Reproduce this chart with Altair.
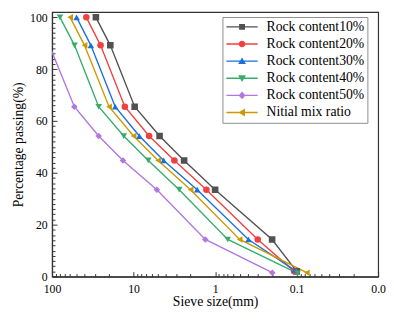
import altair as alt
import pandas as pd

# ---------------- data ----------------
series_names = ["Rock content10%", "Rock content20%", "Rock content30%",
                "Rock content40%", "Rock content50%", "Nitial mix ratio"]
series_colors = ["#515151", "#F14040", "#1A6FDF", "#37AD6B", "#B177DE", "#CC9900"]
marker_shapes = ["square", "circle", "triangle-up", "triangle-down", "diamond", "triangle-left"]

size_rc10 = [29, 19.3, 9.7, 4.8, 2.4, 1.0, 0.20, 0.100]
pass_rc10 = [100, 89.2, 65.5, 54.2, 44.8, 33.5, 14.3, 2.0]
size_rc20 = [38, 25.4, 12.8, 6.45, 3.16, 1.28, 0.30, 0.107]
pass_rc20 = [100, 89.2, 65.5, 54.2, 44.8, 33.5, 14.3, 2.0]
size_rc30 = [50, 33.4, 16.8, 8.5, 4.28, 1.66, 0.39, 0.106]
pass_rc30 = [100, 89.2, 65.5, 54.2, 44.8, 33.5, 14.3, 2.5]
size_rc40 = [80, 53, 26.8, 13.2, 6.6, 2.76, 0.70, 0.097]
pass_rc40 = [100, 89.2, 65.5, 54.2, 44.8, 33.5, 14.3, 1.2]
size_rc50 = [160, 108, 53.3, 26.8, 13.5, 5.18, 1.32, 0.199]
pass_rc50 = [100, 89.2, 65.5, 54.2, 44.8, 33.5, 14.3, 1.5]
size_init = [60, 40, 20, 10, 5, 2, 0.5, 0.075]
pass_init = [100, 89.2, 65.5, 54.2, 44.8, 33.5, 14.3, 1.5]

x_tick_values = [100, 10, 1, 0.1, 0.01]
x_tick_labels = ["100", "10", "1", "0.1", "0.0"]
y_tick_values = [0, 20, 40, 60, 80, 100]

all_sizes = [size_rc10, size_rc20, size_rc30, size_rc40, size_rc50, size_init]
all_pass = [pass_rc10, pass_rc20, pass_rc30, pass_rc40, pass_rc50, pass_init]

rows = []
for name, xs, ys in zip(series_names, all_sizes, all_pass):
    for i, (sv, pv) in enumerate(zip(xs, ys)):
        rows.append({"series": name, "size": sv, "passing": pv, "idx": i})
df = pd.DataFrame(rows)

# minor ticks
x_minor = [k * d for d in [10, 1, 0.1, 0.01] for k in range(2, 10)]
y_minor = [v for v in range(2, 101, 2) if v % 20 != 0]

# legend symbols: line + marker (custom SVG paths)
LINE = "M-3.2,-0.14H3.2V0.14H-3.2Z"
legend_paths = [
    LINE + "M-0.6,-0.6H0.6V0.6H-0.6Z",
    LINE + "M0.68,0A0.68,0.68,0,1,1,-0.68,0A0.68,0.68,0,1,1,0.68,0Z",
    LINE + "M0,-0.75L0.8,0.6L-0.8,0.6Z",
    LINE + "M0,0.75L-0.8,-0.6L0.8,-0.6Z",
    LINE + "M0,-0.8L0.7,0L0,0.8L-0.7,0Z",
    LINE + "M-0.75,0L0.6,-0.8L0.6,0.8Z",
]

# label expression from tick arrays
expr = f"'{x_tick_labels[-1]}'"
for v, lab in reversed(list(zip(x_tick_values[:-1], x_tick_labels[:-1]))):
    expr = f"datum.value > {v / 2} ? '{lab}' : ({expr})"

FONT = "Liberation Serif"
AX = "#333333"

x_scale = alt.Scale(type="log", domain=[0.01, 100], reverse=True, nice=False)
y_scale = alt.Scale(domain=[0, 102], nice=False, zero=False)

color_scale = alt.Scale(domain=series_names, range=series_colors)

base = alt.Chart(df)

lines = base.mark_line(strokeWidth=1.4, clip=True).encode(
    x=alt.X("size:Q", scale=x_scale,
            axis=alt.Axis(orient="bottom", values=x_tick_values, labelExpr=expr,
                          ticks=False, grid=False, labelFlush=False, labelOverlap=False,
                          title="Sieve size(mm)", labelPadding=7, titlePadding=1,
                          labelFont=FONT, labelFontSize=12, labelColor="black",
                          titleFont=FONT, titleFontSize=14, titleFontWeight="normal",
                          titleColor="black", domainColor=AX, domainWidth=1.2)),
    y=alt.Y("passing:Q", scale=y_scale,
            axis=alt.Axis(orient="left", values=y_tick_values, ticks=False, grid=False,
                          title="Percentage passing(%)", labelPadding=5, titlePadding=4,
                          labelFont=FONT, labelFontSize=12, labelColor="black",
                          titleFont=FONT, titleFontSize=14, titleFontWeight="normal",
                          titleColor="black", domainColor=AX, domainWidth=1.2)),
    color=alt.Color("series:N", scale=color_scale, legend=None),
    order="idx:Q",
    detail="series:N",
)

points = base.mark_point(filled=True, size=45, opacity=1, clip=True).encode(
    x=alt.X("size:Q", scale=x_scale,
            axis=alt.Axis(orient="bottom", values=x_tick_values, labels=False, domain=False,
                          grid=False, ticks=True, tickSize=5, offset=-5, tickColor=AX,
                          tickWidth=1, title=None)),
    y=alt.Y("passing:Q", scale=y_scale,
            axis=alt.Axis(orient="left", values=y_tick_values, labels=False, domain=False,
                          grid=False, ticks=True, tickSize=5, offset=-5, tickColor=AX,
                          tickWidth=1, title=None)),
    color=alt.Color("series:N", scale=color_scale, legend=None),
    shape=alt.Shape("series:N", scale=alt.Scale(domain=series_names, range=marker_shapes),
                    legend=None),
)

legend_props = dict(orient="none", legendX=174, legendY=5, title=None,
                    direction="vertical",
                    labelFont=FONT, labelFontSize=14, labelColor="black",
                    symbolSize=100, symbolStrokeWidth=0,
                    symbolOffset=10, labelOffset=18, rowPadding=3.5,
                    padding=3, strokeColor="#8c8c8c", fillColor="white",
                    symbolOpacity=1)

legend_layer = base.transform_filter("datum.passing < -1000").mark_point(
    filled=True, size=100, opacity=1).encode(
    x=alt.X("size:Q", scale=x_scale,
            axis=alt.Axis(orient="bottom", values=x_minor, labels=False, domain=False,
                          grid=False, ticks=True, tickSize=3, offset=-3, tickColor=AX,
                          tickWidth=1, title=None)),
    y=alt.Y("passing:Q", scale=y_scale,
            axis=alt.Axis(orient="left", values=y_minor, labels=False, domain=False,
                          grid=False, ticks=True, tickSize=3, offset=-3, tickColor=AX,
                          tickWidth=1, title=None)),
    color=alt.Color("series:N", scale=color_scale, legend=alt.Legend(**legend_props)),
    shape=alt.Shape("series:N", scale=alt.Scale(domain=series_names, range=legend_paths),
                    legend=alt.Legend(**legend_props)),
)

chart = alt.layer(lines, points, legend_layer).resolve_scale(
    color="independent", shape="independent"
).resolve_axis(
    x="independent", y="independent"
).properties(
    width=333, height=270,
    autosize=alt.AutoSizeParams(type="none"),
    padding={"left": 45, "top": 1, "right": 8, "bottom": 35},
    background="white",
).configure_view(stroke=AX, strokeWidth=1.2)

chart.save("out.html", embed_options={"renderer": "svg", "actions": False})
